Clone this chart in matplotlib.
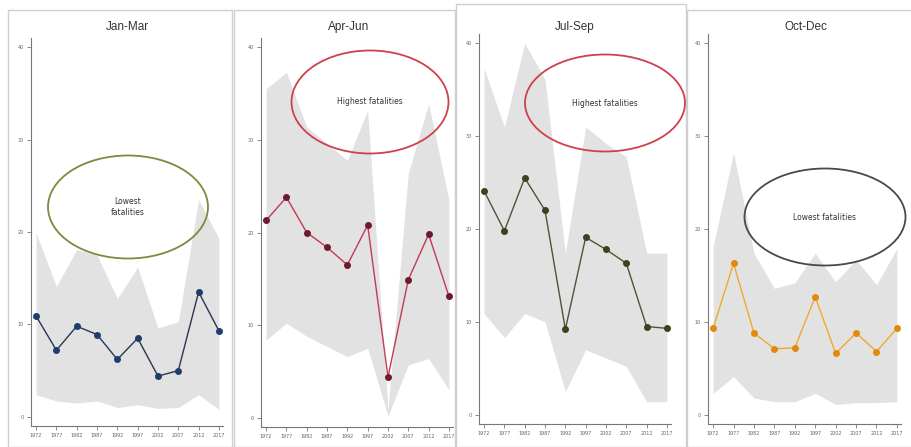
import matplotlib.pyplot as plt
from matplotlib.patches import Ellipse, Rectangle

years = ["1972", "1977", "1982", "1987", "1992", "1997", "2002", "2007", "2012", "2017"]
yticks = [0, 10, 20, 30, 40]

# Jan-Mar
q1_mean = [10.9, 7.2, 9.8, 8.9, 6.2, 8.5, 4.4, 5.0, 13.5, 9.3]
q1_upper = [19.9, 14.1, 18.1, 17.5, 12.8, 16.2, 9.6, 10.3, 23.5, 19.3]
q1_lower = [2.4, 1.7, 1.5, 1.7, 1.0, 1.3, 0.9, 1.0, 2.4, 0.8]

# Apr-Jun
q2_mean = [21.3, 23.8, 20.0, 18.4, 16.5, 20.8, 4.4, 14.9, 19.8, 13.1]
q2_upper = [35.5, 37.3, 31.4, 29.6, 27.8, 33.2, 0.9, 26.4, 33.9, 23.5]
q2_lower = [8.4, 10.2, 8.8, 7.7, 6.6, 7.5, 0.2, 5.7, 6.4, 3.0]

# Jul-Sep
q3_mean = [24.1, 19.8, 25.5, 22.0, 9.2, 19.1, 17.8, 16.3, 9.5, 9.3]
q3_upper = [37.3, 31.0, 40.0, 36.1, 17.4, 31.0, 29.2, 27.8, 17.4, 17.4]
q3_lower = [10.9, 8.3, 10.9, 10.0, 2.5, 7.0, 6.1, 5.2, 1.4, 1.4]

# Oct-Dec
q4_mean = [9.3, 16.3, 8.8, 7.1, 7.2, 12.7, 6.6, 8.8, 6.8, 9.3]
q4_upper = [18.1, 28.2, 17.4, 13.6, 14.2, 17.4, 14.3, 16.7, 14.0, 17.9]
q4_lower = [2.3, 4.1, 1.8, 1.4, 1.4, 2.3, 1.1, 1.3, 1.3, 1.4]

W, H = 912, 447


def px_rect(left, top, right, bottom):
    return [left / W, 1 - bottom / H, (right - left) / W, (bottom - top) / H]


panels = [
    ("Jan-Mar", q1_mean, q1_upper, q1_lower, "#2a3550", "#1f3d6e", (31, 38, 223, 426), 127),
    ("Apr-Jun", q2_mean, q2_upper, q2_lower, "#c23a55", "#6e1a30", (261, 38, 453, 427), 349),
    ("Jul-Sep", q3_mean, q3_upper, q3_lower, "#4d5535", "#3a4220", (479, 34, 671, 424), 575),
    ("Oct-Dec", q4_mean, q4_upper, q4_lower, "#f0a830", "#e08a10", (708, 34, 901, 424), 806),
]

notes = [
    ("Lowest\nfatalities", "#7d8a3c", (128, 207, 160, 103)),
    ("Highest fatalities", "#d0404a", (370, 102, 157, 103)),
    ("Highest fatalities", "#d0404a", (605, 103, 160, 97)),
    ("Lowest fatalities", "#4a4a40", (825, 217, 161, 97)),
]

frames = [(8, 10, 232, 447), (234, 10, 455, 447), (456, 4, 686, 447), (687, 10, 912, 447)]

fig = plt.figure(figsize=(W / 100, H / 100), dpi=100)
fig.patch.set_facecolor("white")

for l, t, r, b in frames:
    fig.patches.append(Rectangle((l / W, 1 - b / H), (r - l) / W, (b - t) / H,
                                 transform=fig.transFigure, fill=False,
                                 edgecolor="#cfcfcf", linewidth=1.0))

for title, mean, upper, lower, lcol, mcol, rect, tx in panels:
    ax = fig.add_axes(px_rect(*rect))
    x = range(len(years))
    ax.fill_between(x, lower, upper, color="#e2e2e2", linewidth=0)
    ax.plot(x, mean, color=lcol, linewidth=1.0, marker="o", markersize=4,
            markerfacecolor=mcol, markeredgecolor=mcol)
    ax.set_xlim(-0.25, 9.2)
    ax.set_ylim(-1, 41)
    ax.set_xticks(list(x))
    ax.set_xticklabels(years, fontsize=3.5, color="#666666")
    ax.set_yticks(yticks)
    ax.set_yticklabels([str(v) for v in yticks], fontsize=3.5, color="#666666")
    ax.tick_params(length=3, width=0.6, color="#777777", pad=2)
    for s in ["top", "right"]:
        ax.spines[s].set_visible(False)
    for s in ["left", "bottom"]:
        ax.spines[s].set_color("#777777")
        ax.spines[s].set_linewidth(0.8)
    ax.patch.set_alpha(0)
    fig.text(tx / W, 1 - 27 / H, title, ha="center", va="center",
             fontsize=8.5, color="#333333", family="Liberation Sans")

for text, col, (cx, cy, w, h) in notes:
    fig.patches.append(Ellipse((cx / W, 1 - cy / H), w / W, h / H,
                               transform=fig.transFigure, fill=False,
                               edgecolor=col, linewidth=1.3, zorder=5))
    fig.text(cx / W, 1 - cy / H, text, ha="center", va="center",
             fontsize=5.5, color="#333333", linespacing=1.4, zorder=6)

fig.savefig("out.png", dpi=100)
